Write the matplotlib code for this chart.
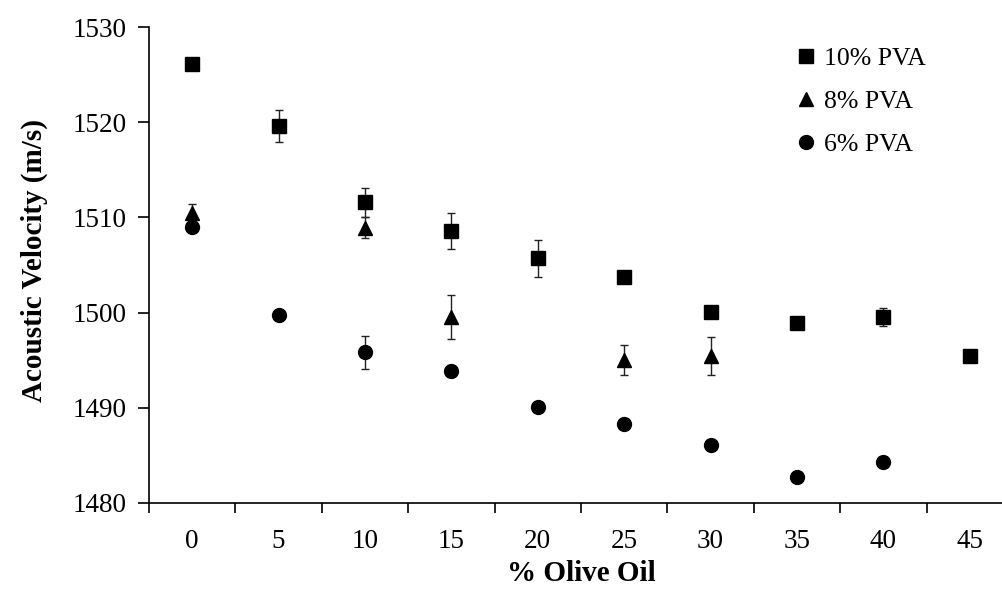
import numpy as np
import matplotlib
matplotlib.use("Agg")
import matplotlib.pyplot as plt

plt.rcParams['font.family'] = ['Liberation Serif', 'DejaVu Serif']

categories = ["0", "5", "10", "15", "20", "25", "30", "35", "40", "45"]

pva10 = [1526.1, 1519.6, 1511.6, 1508.6, 1505.7, 1503.7, 1500.1, 1498.9, 1499.5, 1495.4]
pva10_err = [0.0, 1.65, 1.5, 1.9, 1.95, 0.0, 0.0, 0.0, 0.95, 0.0]

pva8 = [1510.5, np.nan, 1508.9, 1499.5, np.nan, 1495.0, 1495.4, np.nan, np.nan, np.nan]
pva8_err = [0.9, 0.0, 1.1, 2.3, 0.0, 1.6, 2.0, 0.0, 0.0, 0.0]

pva6 = [1509.0, 1499.7, 1495.8, 1493.8, 1490.1, 1488.3, 1486.1, 1482.7, 1484.3, np.nan]
pva6_err = [0.0, 0.5, 1.7, 0.0, 0.0, 0.0, 0.0, 0.4, 0.0, 0.0]

series = [
    ("10% PVA", pva10, pva10_err, "s"),
    ("8% PVA", pva8, pva8_err, "^"),
    ("6% PVA", pva6, pva6_err, "o"),
]

fig = plt.figure(figsize=(10.03, 5.91), dpi=100)
left, bottom, top = 149 / 1003, (591 - 502.7) / 591, 1 - 27.3 / 591
right = 1013 / 1003
ax = fig.add_axes([left, bottom, right - left, top - bottom])

x = np.arange(len(categories))
for label, vals, errs, mk in series:
    vals = np.array(vals, dtype=float)
    errs = np.array(errs, dtype=float)
    ax.errorbar(x, vals, yerr=errs, fmt='none', ecolor='#222222',
                elinewidth=1.0, capsize=2.6, capthick=1.0, zorder=2, clip_on=False)
    ax.plot(x, vals, linestyle='none', marker=mk, markersize=10,
            color='black', label=label, zorder=3, clip_on=False)

ax.set_xlim(-0.5, len(categories) - 0.5)
ax.set_ylim(1480, 1530)
ax.set_yticks(np.arange(1480, 1531, 10))

ax.set_xticks(np.arange(-0.5, len(categories), 1.0))
ax.set_xticklabels([])
ax.set_xticks(x, minor=True)
ax.set_xticklabels(categories, minor=True)
ax.tick_params(axis='x', which='major', direction='out', length=7, width=1.2)
ax.tick_params(axis='x', which='minor', length=0, pad=19, labelsize=19.5)
ax.tick_params(axis='y', direction='out', length=8, width=1.2, pad=8, labelsize=19.5)

for s in ['top', 'right']:
    ax.spines[s].set_visible(False)
for s in ['left', 'bottom']:
    ax.spines[s].set_linewidth(1.2)
    ax.spines[s].set_color('black')

ax.set_xlabel("% Olive Oil", fontsize=21, fontweight='bold', labelpad=4)
ax.set_ylabel("Acoustic Velocity (m/s)", fontsize=21, fontweight='bold', labelpad=18)
ax.yaxis.label.set_y(0.51)

leg = fig.legend(loc='upper left', bbox_to_anchor=(796 / 1003, 1 - 47 / 591),
                 frameon=False, fontsize=18.5, handlelength=0.8, handletextpad=0.3,
                 labelspacing=0.78, borderpad=0, borderaxespad=0, markerscale=1.0)

fig.savefig("out.png", dpi=100)
